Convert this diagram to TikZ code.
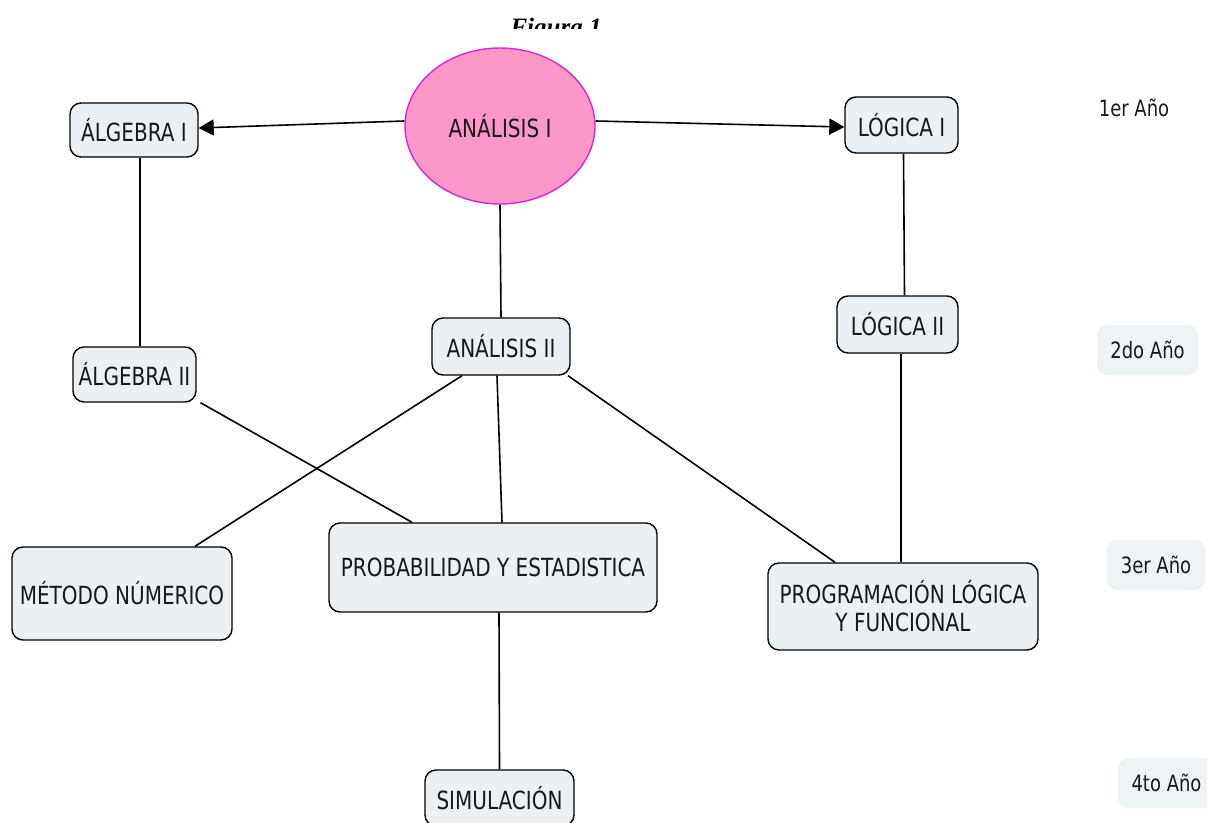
\documentclass[tikz,border=0pt]{standalone}
\usepackage{fontspec}
\usetikzlibrary{shapes.geometric,arrows.meta}
\newfontfamily\boxfont[FakeStretch=0.8]{DejaVu Sans}
\newfontfamily\capfont{Liberation Serif}
\definecolor{boxfill}{RGB}{234,240,243}
\definecolor{yearfill}{RGB}{238,243,245}
\definecolor{pinkfill}{RGB}{250,150,200}
\definecolor{pinkline}{RGB}{214,40,205}
\definecolor{txt}{RGB}{25,25,25}
\tikzset{
  x=1pt,y=-1pt,
  box/.style={draw=black, line width=1.4pt, rounded corners=11pt, fill=boxfill,
    font=\boxfont\fontsize{25}{28}\selectfont, text=txt, align=center, inner sep=0pt},
  oval/.style={ellipse, draw=pinkline, line width=1.4pt, fill=pinkfill,
    font=\boxfont\fontsize{25}{28}\selectfont, text=txt, inner sep=0pt},
  year/.style={rounded corners=10pt, fill=yearfill, inner sep=0pt,
    font=\boxfont\fontsize{22.5}{26}\selectfont, text=txt},
  link/.style={draw=black, line width=1.6pt},
  arr/.style={link, -{Triangle[length=15pt,width=16pt]}}
}
\begin{document}
\begin{tikzpicture}
\useasboundingbox (0,0) rectangle (1207,822);
\begin{scope}
  \clip (0,0) rectangle (1207,28);
  \node[font=\capfont\bfseries\itshape\fontsize{25}{28}\selectfont, anchor=base, inner sep=0pt] (fig) at (556,35) {Figura 1};
\end{scope}
\node[oval, minimum width=190pt, minimum height=156pt] (an1) at (500,126) {ANÁLISIS I};
\node[box, minimum width=128pt, minimum height=54pt] (alg1) at (134,130) {ÁLGEBRA I};
\node[box, minimum width=113pt, minimum height=56pt] (log1) at (901.5,125) {LÓGICA I};
\node[box, minimum width=121pt, minimum height=57pt] (log2) at (897.5,324.5) {LÓGICA II};
\node[box, minimum width=123pt, minimum height=55pt] (alg2) at (134.5,374.5) {ÁLGEBRA II};
\node[box, minimum width=138pt, minimum height=57pt] (an2) at (501,346.5) {ANÁLISIS II};
\node[box, minimum width=220pt, minimum height=93pt] (met) at (122,593.5) {MÉTODO NÚMERICO};
\node[box, minimum width=328pt, minimum height=89pt] (prob) at (493,567.5) {PROBABILIDAD Y ESTADISTICA};
\node[box, minimum width=270pt, minimum height=87pt] (prog) at (903,606.5) {PROGRAMACIÓN LÓGICA\\Y FUNCIONAL};
\node[box, minimum width=149pt, minimum height=56pt] (sim) at (499.5,798) {SIMULACIÓN};
\node[font=\boxfont\fontsize{22.5}{26}\selectfont, text=txt, inner sep=0pt] (y1) at (1134,108) {1er Año};
\node[year, minimum width=101pt, minimum height=50pt] (y2) at (1147.5,350) {2do Año};
\node[year, minimum width=98pt, minimum height=50pt] (y3) at (1156,565) {3er Año};
\node[year, minimum width=97pt, minimum height=50pt] (y4) at (1166.5,783) {4to Año};
\draw[arr] ([yshift=5pt]an1.west) -- ([yshift=2pt]alg1.east);
\draw[arr] ([yshift=5pt]an1.east) -- ([yshift=-2pt]log1.west);
\draw[link] ([xshift=6pt]alg1.south) -- ([xshift=5.5pt]alg2.north);
\draw[link] (an1.south) -- (an2.north);
\draw[link] ([xshift=2pt]log1.south) -- ([xshift=7pt]log2.north);
\draw[link] ([xshift=3.5pt]log2.south) -- ([xshift=-2pt]prog.north);
\draw[link] ([xshift=66pt]alg2.south) -- ([xshift=-81pt]prob.north);
\draw[link] ([xshift=-39pt]an2.south) -- ([xshift=73pt]met.north);
\draw[link] ([xshift=-4pt]an2.south) -- ([xshift=9pt]prob.north);
\draw[link] ([xshift=67pt]an2.south) -- ([xshift=-68pt]prog.north);
\draw[link] ([xshift=6pt]prob.south) -- (sim.north);
\end{tikzpicture}
\end{document}
